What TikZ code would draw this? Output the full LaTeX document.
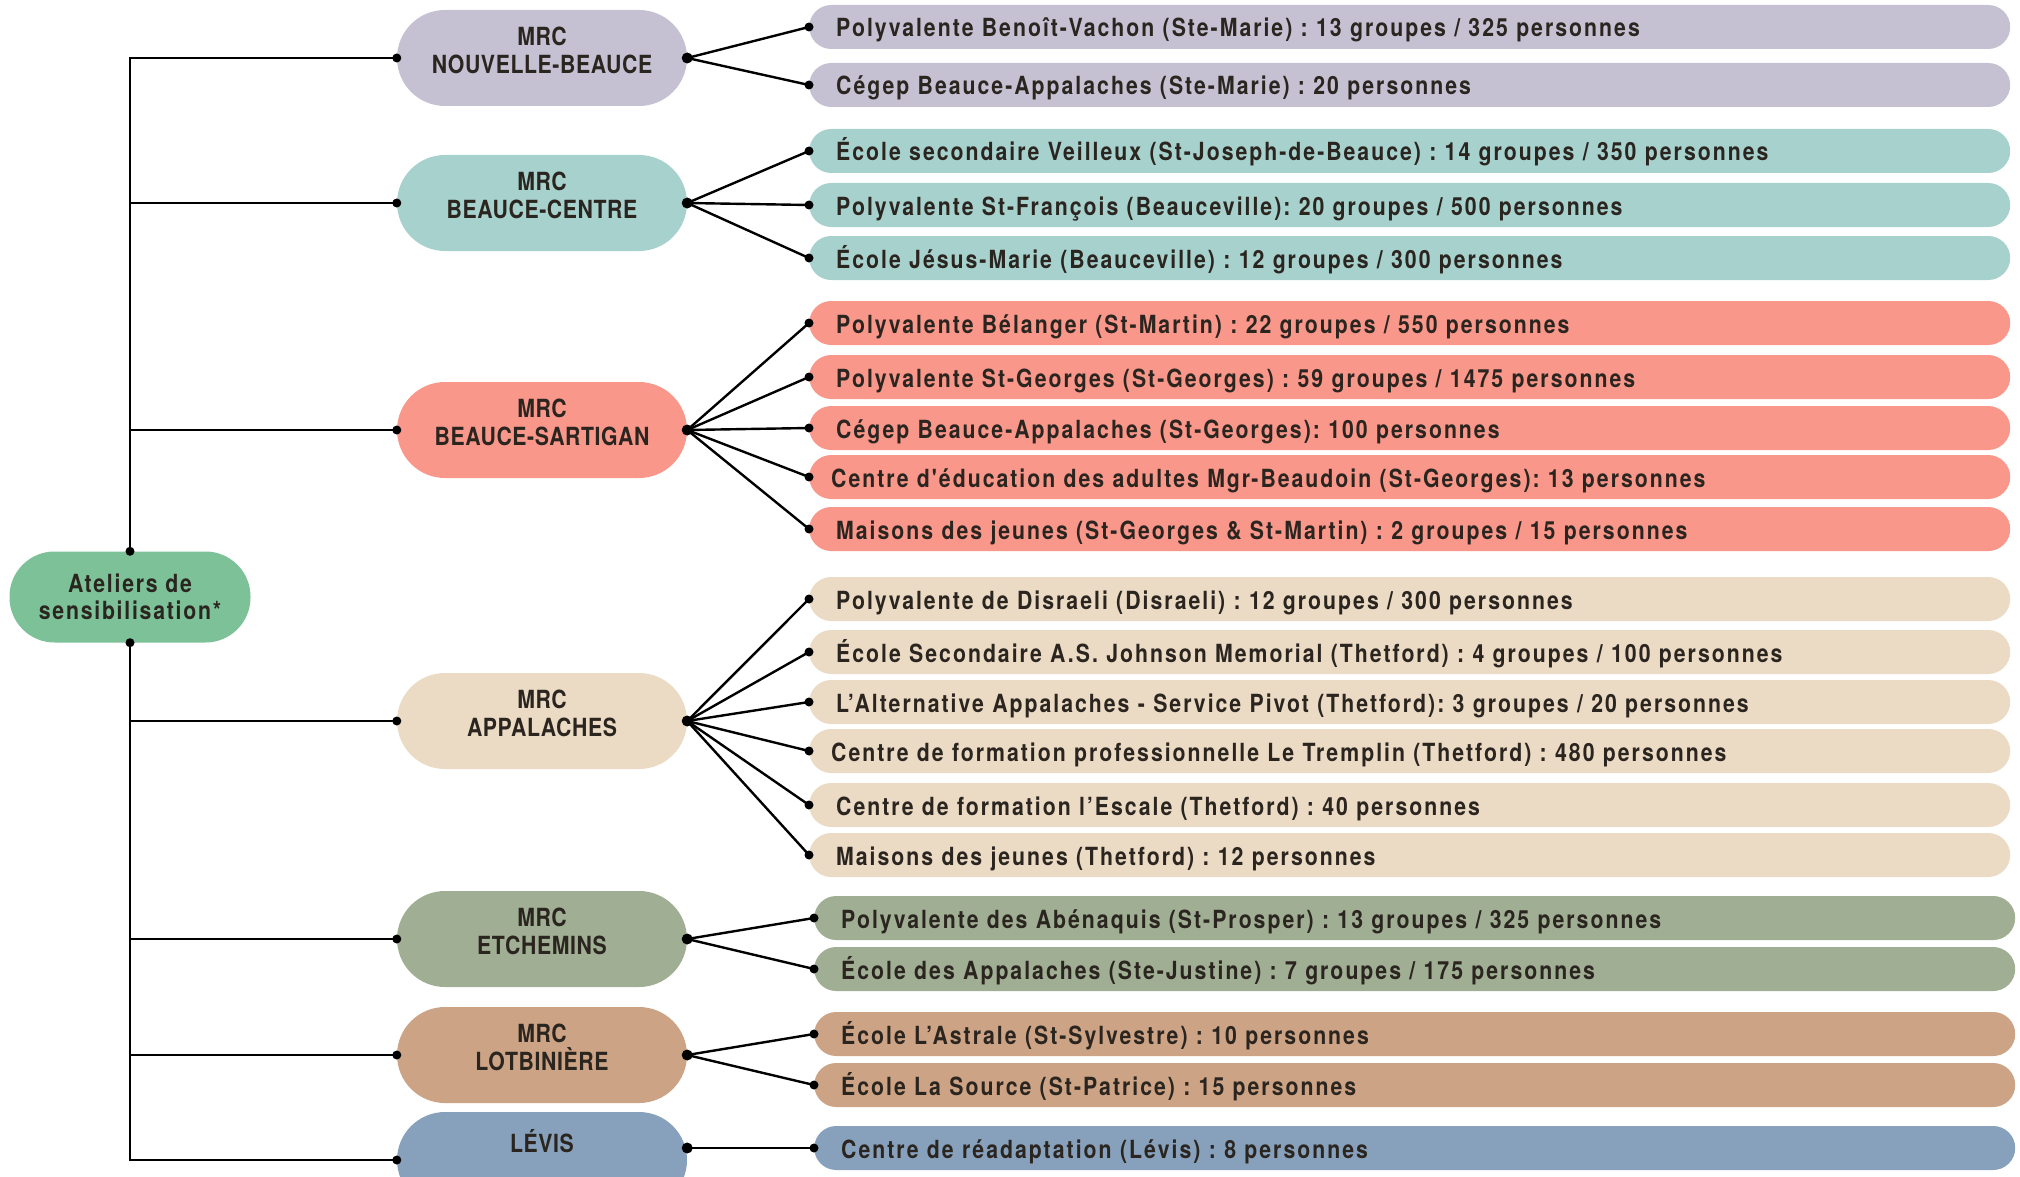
\documentclass[tikz,border=0pt]{standalone}
\usepackage{fontspec}
\setmainfont{TeX Gyre Heros}[FakeStretch=0.85]
\newfontfamily\policeecole{TeX Gyre Heros}[FakeStretch=0.85, LetterSpace=8, Ligatures=TeXOff]
\newfontfamily\policemrc{TeX Gyre Heros}[FakeStretch=0.85, LetterSpace=2.4]
\newfontfamily\policeracine{TeX Gyre Heros}[FakeStretch=0.85, LetterSpace=7]
\usetikzlibrary{positioning}
\frenchspacing

\definecolor{encre}{HTML}{2B2520}
\definecolor{atelier}{HTML}{7CC197}
\definecolor{beauce}{HTML}{C5C1D3}
\definecolor{centre}{HTML}{A7D1CD}
\definecolor{sartigan}{HTML}{F9978B}
\definecolor{appal}{HTML}{EBDAC4}
\definecolor{etchem}{HTML}{A0AE94}
\definecolor{lotbin}{HTML}{CCA385}
\definecolor{levis}{HTML}{87A1BD}

\begin{document}
\begin{tikzpicture}[x=1pt,y=-1pt,
        lien/.style={line width=2.4pt},
        bulle/.style={rounded corners=45pt, minimum width=241pt, minimum height=91pt, align=center, text=encre, font=\policeracine\fontsize{25}{27}\selectfont\bfseries},
        mrc/.style={rounded corners=48pt, minimum width=290pt, minimum height=96pt, text height=47pt, text depth=16pt, align=center, text=encre, font=\policemrc\fontsize{25}{28}\selectfont\bfseries},
        ecole/.style={rounded corners=22pt, anchor=west, minimum height=44pt, text width=1147pt, text height=24pt, text depth=4pt, inner xsep=27pt, inner ysep=0pt, align=left, text=encre, font=\policeecole\fontsize{25}{29}\selectfont\bfseries}]
        \useasboundingbox (0,0) rectangle (2020,1177);
        % racine
        \node[bulle,fill=atelier] (root) at (130,597) {Ateliers de\\sensibilisation*};
        % MRC
        \node[mrc,fill=beauce] (nb) at (542,58) {MRC\\NOUVELLE-BEAUCE};
        \node[mrc,fill=centre] (bc) at (542,203) {MRC\\BEAUCE-CENTRE};
        \node[mrc,fill=sartigan] (bs) at (542,430) {MRC\\BEAUCE-SARTIGAN};
        \node[mrc,fill=appal] (app) at (542,721) {MRC\\APPALACHES};
        \node[mrc,fill=etchem] (etch) at (542,939) {MRC\\ETCHEMINS};
        \node[mrc,fill=lotbin] (lot) at (542,1055) {MRC\\LOTBINIÈRE};
        \node[mrc,fill=levis,text height=18pt,text depth=33pt] (lev) at (542,1160) {LÉVIS};
        % ecoles
        \node[ecole,fill=beauce] (nb1) at (809,27) {Polyvalente Benoît-Vachon (Ste-Marie) : 13 groupes / 325 personnes};
        \node[ecole,fill=beauce] (nb2) at (809,85) {Cégep Beauce-Appalaches (Ste-Marie) : 20 personnes};
        \node[ecole,fill=centre] (bc1) at (809,151) {École secondaire Veilleux (St-Joseph-de-Beauce) : 14 groupes / 350 personnes};
        \node[ecole,fill=centre] (bc2) at (809,205) {Polyvalente St-François (Beauceville): 20 groupes / 500 personnes};
        \node[ecole,fill=centre] (bc3) at (809,258) {École Jésus-Marie (Beauceville) : 12 groupes / 300 personnes};
        \node[ecole,fill=sartigan] (bs1) at (809,323) {Polyvalente Bélanger (St-Martin) : 22 groupes / 550 personnes};
        \node[ecole,fill=sartigan] (bs2) at (809,377) {Polyvalente St-Georges (St-Georges) : 59 groupes / 1475 personnes};
        \node[ecole,fill=sartigan] (bs3) at (809,428) {Cégep Beauce-Appalaches (St-Georges): 100 personnes};
        \node[ecole,fill=sartigan] (bs4) at (809,477) {\hspace*{-5pt}Centre d'éducation des adultes Mgr-Beaudoin (St-Georges): 13 personnes};
        \node[ecole,fill=sartigan] (bs5) at (809,529) {Maisons des jeunes (St-Georges \& St-Martin) : 2 groupes / 15 personnes};
        \node[ecole,fill=appal] (app1) at (809,599) {Polyvalente de Disraeli (Disraeli) : 12 groupes / 300 personnes};
        \node[ecole,fill=appal] (app2) at (809,652) {École Secondaire A.S. Johnson Memorial (Thetford) : 4 groupes / 100 personnes};
        \node[ecole,fill=appal] (app3) at (809,702) {L’Alternative Appalaches - Service Pivot (Thetford): 3 groupes / 20 personnes};
        \node[ecole,fill=appal] (app4) at (809,751) {\hspace*{-5pt}Centre de formation professionnelle Le Tremplin (Thetford) : 480 personnes};
        \node[ecole,fill=appal] (app5) at (809,805) {Centre de formation l’Escale (Thetford) : 40 personnes};
        \node[ecole,fill=appal] (app6) at (809,855) {Maisons des jeunes (Thetford) : 12 personnes};
        \node[ecole,fill=etchem] (etch1) at (814,918) {Polyvalente des Abénaquis (St-Prosper) : 13 groupes / 325 personnes};
        \node[ecole,fill=etchem] (etch2) at (814,969) {École des Appalaches (Ste-Justine) : 7 groupes / 175 personnes};
        \node[ecole,fill=lotbin] (lot1) at (814,1034) {École L’Astrale (St-Sylvestre) : 10 personnes};
        \node[ecole,fill=lotbin] (lot2) at (814,1085) {École La Source (St-Patrice) : 15 personnes};
        \node[ecole,fill=levis] (lev1) at (814,1148) {Centre de réadaptation (Lévis) : 8 personnes};
        % tronc
        \foreach \m in {nb,bc,bs} \draw[lien] (root.north) |- (\m.west);
        \foreach \m in {app,etch,lot,lev} \draw[lien] (root.south) |- (\m.west);
        % branches
        \foreach \e in {nb1,nb2} \draw[lien] (nb.east) -- (\e.west);
        \foreach \e in {bc1,bc2,bc3} \draw[lien] (bc.east) -- (\e.west);
        \foreach \e in {bs1,bs2,bs3,bs4,bs5} \draw[lien] (bs.east) -- (\e.west);
        \foreach \e in {app1,app2,app3,app4,app5,app6} \draw[lien] (app.east) -- (\e.west);
        \foreach \e in {etch1,etch2} \draw[lien] (etch.east) -- (\e.west);
        \foreach \e in {lot1,lot2} \draw[lien] (lot.east) -- (\e.west);
        \draw[lien] (lev.east |- lev1.west) -- (lev1.west);
        % points
        \foreach \p in {root.north,root.south,nb.west,bc.west,bs.west,app.west,etch.west,lot.west,lev.west}
            \fill (\p) circle (4.5);
        \foreach \p in {nb,bc,bs,app,etch,lot} \fill (\p.east) circle (5.5);
        \fill (lev.east |- lev1.west) circle (5.5);
        \foreach \p in {nb1,nb2,bc1,bc2,bc3,bs1,bs2,bs3,bs4,bs5,app1,app2,app3,app4,app5,app6,etch1,etch2,lot1,lot2,lev1}
            \fill (\p.west) circle (4.5);
    \end{tikzpicture}
\end{document}
